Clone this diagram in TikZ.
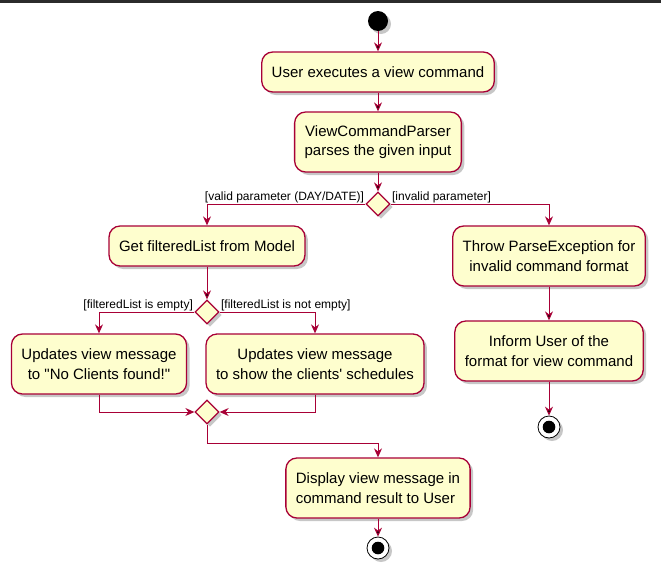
\documentclass[tikz,border=0pt]{standalone}
\usepackage{fontspec}
\setmainfont{Liberation Sans}
\usetikzlibrary{arrows.meta,positioning,shapes.geometric,shadows}
\definecolor{umlred}{HTML}{A80036}
\definecolor{umlfill}{HTML}{FEFECE}
\definecolor{topbar}{HTML}{2B2B2B}
\tikzset{every shadow/.style={fill=black,opacity=0.22,shadow xshift=3pt,shadow yshift=-3pt}}
\tikzset{
  action/.style={rectangle,rounded corners=11pt,draw=umlred,fill=umlfill,line width=1.3pt,
    inner xsep=10pt,inner ysep=6pt,minimum height=40pt,align=center,
    font=\fontsize{15}{19.5}\selectfont,drop shadow},
  twoline/.style={minimum height=60pt},
  branch/.style={diamond,draw=umlred,fill=umlfill,line width=1.3pt,
    minimum width=24pt,minimum height=24pt,inner sep=0pt,drop shadow},
  startnode/.style={circle,fill=black,minimum size=20pt,inner sep=0pt,drop shadow},
  endnode/.style={circle,draw=black,fill=white,line width=0.8pt,minimum size=22pt,inner sep=0pt,
    drop shadow,path picture={\fill[black] (path picture bounding box.center) circle (6.3pt);}},
  flow/.style={draw=umlred,line width=1pt,-{Stealth[length=9pt,width=8pt,inset=3pt]}},
  guard/.style={font=\fontsize{12}{14}\selectfont,inner sep=1pt}
}

\begin{document}
\begin{tikzpicture}[x=1pt,y=-1pt]
\fill[white] (0,0) rectangle (661,576);
\useasboundingbox (0,0) rectangle (661,576);
\fill[topbar] (0,0) rectangle (661,2.5);
% \draw[help lines,step=20] (0,0) grid (661,576);
\node (start) [startnode] at (378,21) {};
\node (exec) [action] at (378,72) {User executes a view command};
\node (parse) [action,twoline] at (378,142) {ViewCommandParser\\parses the given input};
\node (d1) [branch] at (378,204) {};
\node (getlist) [action] at (207,246) {Get filteredList from Model};
\node (throw) [action,twoline] at (549,256) {Throw ParseException for\\invalid command format};
\node (d2) [branch] at (207,312) {};
\node (noclient) [action,twoline] at (99,364) {Updates view message\\to \textquotedbl No Clients found!\textquotedbl};
\node (schedule) [action,twoline] at (315,364) {Updates view message\\to show the clients\textquotesingle{} schedules};
\node (inform) [action,twoline] at (549,351) {Inform User of the\\format for view command};
\node (endR) [endnode] at (549,427) {};
\node (merge) [branch] at (207,412) {};
\node (display) [action,twoline,align=left] at (378,488) {Display view message in\\command result to User};
\node (endM) [endnode] at (378,548) {};
%
\path[flow] (start) edge (exec);
\path[flow] (exec) edge (parse);
\path[flow] (parse) edge (d1);
\draw[flow] (d1.west) -| node[pos=0,guard,anchor=south east] {[valid parameter (DAY/DATE)]} (getlist.north);
\draw[flow] (d1.east) -| node[pos=0,guard,anchor=south west] {[invalid parameter]} (throw.north);
\path[flow] (getlist) edge (d2);
\draw[flow] (d2.west) -| node[pos=0,guard,anchor=south east] {[filteredList is empty]} (noclient.north);
\draw[flow] (d2.east) -| node[pos=0,guard,anchor=south west] {[filteredList is not empty]} (schedule.north);
\draw[flow] (noclient.south) |- (merge.west);
\draw[flow] (schedule.south) |- (merge.east);
\draw[flow] (merge.south) -- ++(0,19) -| (display.north);
\path[flow] (display) edge (endM);
\path[flow] (throw) edge (inform);
\path[flow] (inform) edge (endR);
\end{tikzpicture}
\end{document}
